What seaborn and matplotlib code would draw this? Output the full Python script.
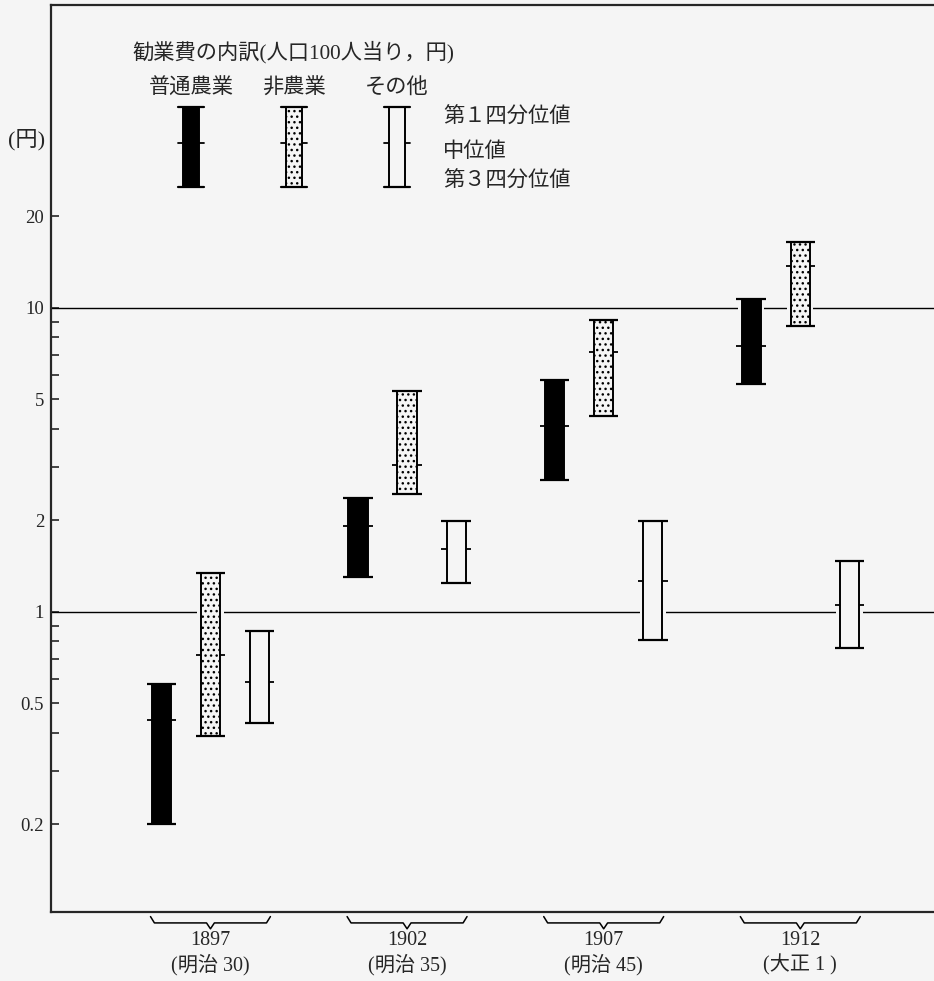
import matplotlib
matplotlib.use("Agg")
import pandas as pd
import matplotlib.pyplot as plt
from matplotlib.patches import Rectangle
from matplotlib.ticker import FixedLocator, FixedFormatter, NullFormatter
import seaborn as sns

years = ["1897", "1902", "1907", "1912"]
eras = ["明治 30", "明治 35", "明治 45", "大正 1 "]
categories = ["普通農業", "非農業", "その他"]

# 第1四分位値（上端）, 中位値, 第3四分位値（下端）  単位: 円 / 人口100人
agri_q1 = [0.58, 2.37, 5.8, 10.7]
agri_med = [0.44, 1.92, 4.09, 7.5]
agri_q3 = [0.20, 1.30, 2.72, 5.63]

nonagri_q1 = [1.34, 5.33, 9.13, 16.5]
nonagri_med = [0.72, 3.04, 7.17, 13.7]
nonagri_q3 = [0.39, 2.44, 4.41, 8.73]

other_q1 = [0.866, 1.99, 1.99, 1.47]
other_med = [0.59, 1.61, 1.26, 1.05]
other_q3 = [0.43, 1.24, 0.81, 0.76]

rows = []
for cat, q1, med, q3 in [("普通農業", agri_q1, agri_med, agri_q3),
                         ("非農業", nonagri_q1, nonagri_med, nonagri_q3),
                         ("その他", other_q1, other_med, other_q3)]:
    for i, y in enumerate(years):
        rows.append({"year": y, "category": cat, "q1": q1[i], "median": med[i], "q3": q3[i]})
df = pd.DataFrame(rows)

BG = "#f5f5f5"
offsets = {"普通農業": -0.25, "非農業": 0.0, "その他": 0.25}
styles = {
    "普通農業": dict(facecolor="black", hatch=None),
    "非農業": dict(facecolor=BG, hatch="..."),
    "その他": dict(facecolor=BG, hatch=None),
}
df["x"] = df["year"].map({y: i for i, y in enumerate(years)}) + df["category"].map(offsets)

sns.set_theme(style="ticks")
plt.rcParams["font.family"] = ["Liberation Serif", "Noto Sans CJK JP", "DejaVu Sans"]
plt.rcParams["hatch.linewidth"] = 1.0
plt.rcParams["axes.linewidth"] = 1.6

fig = plt.figure(figsize=(9.34, 9.81), dpi=100, facecolor=BG)
ax = fig.add_axes([0.0546, 0.0703, 0.9454, 0.9246])
ax.set_facecolor(BG)
ax.set_yscale("log")
ax.set_ylim(0.103, 99)
ax.set_xlim(-0.811, 3.68)

# grid lines at 1 and 10
for v in (1, 10):
    ax.axhline(v, color="black", lw=1.0, zorder=1)

bw = 0.098
cw = 0.15
# halo that breaks the grid lines around each bar
ax.bar(df["x"], df["q1"] - df["q3"], bottom=df["q3"], width=bw + 0.035,
       color=BG, edgecolor="none", zorder=2)

# median marks
ax.hlines(df["median"], df["x"] - cw / 2, df["x"] + cw / 2, color="black", lw=1.3, zorder=3)

for cat in categories:
    sub = df[df["category"] == cat]
    st = styles[cat]
    ax.bar(sub["x"], sub["q1"] - sub["q3"], bottom=sub["q3"], width=bw,
           facecolor=st["facecolor"], edgecolor="black", hatch=st["hatch"],
           lw=1.4, zorder=4)

# caps
ax.hlines(df["q1"], df["x"] - cw / 2, df["x"] + cw / 2, color="black", lw=1.6, zorder=5)
ax.hlines(df["q3"], df["x"] - cw / 2, df["x"] + cw / 2, color="black", lw=1.6, zorder=5)

# axes / ticks
sns.despine(ax=ax, right=True, top=False)
major = [0.2, 0.5, 1, 2, 5, 10, 20]
minor = [0.3, 0.4, 0.6, 0.7, 0.8, 0.9, 3, 4, 6, 7, 8, 9]
ax.yaxis.set_major_locator(FixedLocator(major))
ax.yaxis.set_major_formatter(FixedFormatter(["0.2", "0.5", "1", "2", "5", "10", "20"]))
ax.yaxis.set_minor_locator(FixedLocator(minor))
ax.yaxis.set_minor_formatter(NullFormatter())
ax.tick_params(axis="y", which="both", direction="in", length=6, width=1.2,
               labelsize=13.5, pad=5, right=False)
ax.set_xticks(range(len(years)))
ax.set_xticklabels([f"{y}\n({e})" for y, e in zip(years, eras)], fontsize=14.5, linespacing=1.2)
ax.tick_params(axis="x", length=0, pad=14)
ax.set_xlabel("")
ax.set_ylabel("")

# braces under each year group
for i in range(len(years)):
    x0, x1 = i - 0.305, i + 0.305
    xs = [x0, x0 + 0.02, i - 0.02, i, i + 0.02, x1 - 0.02, x1]
    ys = [-0.005, -0.012, -0.012, -0.0185, -0.012, -0.012, -0.005]
    ax.plot(xs, ys, color="black", lw=1.1, clip_on=False,
            transform=ax.get_xaxis_transform())

# legend drawn inside the axes
T = ax.transAxes
FS = 15.3
ax.text(0.0917, 0.9482, "勧業費の内訳(人口100人当り，円)", transform=T, fontsize=FS,
        ha="left", va="center")
leg_x = {"普通農業": 0.1586, "非農業": 0.2752, "その他": 0.3918}
leg_top, leg_bot, leg_med = 0.8875, 0.7993, 0.8478
lw_leg = 0.0181
lc_leg = 0.0294
for cat in categories:
    cx = leg_x[cat]
    ax.text(cx, 0.9074, cat, transform=T, fontsize=FS, ha="center", va="center")
    ax.plot([cx - lc_leg / 2, cx + lc_leg / 2], [leg_med, leg_med], color="black",
            lw=1.3, transform=T, zorder=3)
    st = styles[cat]
    ax.add_patch(Rectangle((cx - lw_leg / 2, leg_bot), lw_leg, leg_top - leg_bot,
                           transform=T, facecolor=st["facecolor"], edgecolor="black",
                           hatch=st["hatch"], lw=1.4, zorder=4))
    for yy in (leg_top, leg_bot):
        ax.plot([cx - lc_leg / 2, cx + lc_leg / 2], [yy, yy], color="black",
                lw=1.6, transform=T, zorder=5)
ax.text(0.4439, 0.8754, "第１四分位値", transform=T, fontsize=FS, ha="left", va="center")
ax.text(0.4439, 0.8379, "中位値", transform=T, fontsize=FS, ha="left", va="center")
ax.text(0.4439, 0.8049, "第３四分位値", transform=T, fontsize=FS, ha="left", va="center")

fig.text(0.0289, 1 - 140 / 981, "(円)", fontsize=16, ha="center", va="center")

fig.savefig("out.png", dpi=100, facecolor=BG)
